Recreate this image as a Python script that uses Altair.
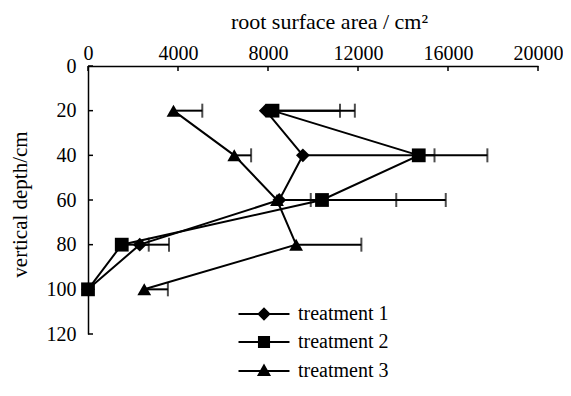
import altair as alt
import pandas as pd

series_names = ["treatment 1", "treatment 2", "treatment 3"]
depths = [20, 40, 60, 80, 100]
t1_values = [7900, 9550, 8500, 2300, 0]
t1_errors = [3300, 5850, 5200, 1300, 0]
t2_values = [8200, 14700, 10400, 1500, 0]
t2_errors = [3660, 3050, 5500, 1200, 0]
t3_values = [3800, 6500, 8400, 9250, 2500]
t3_errors = [1280, 750, 1500, 2900, 1050]
x_ticks = [0, 4000, 8000, 12000, 16000, 20000]
y_ticks = [0, 20, 40, 60, 80, 100, 120]
point_shapes = ["diamond", "square", "triangle-up"]
legend_shapes = [
    "M-3.8,-0.15H3.8V0.15H-3.8Z M0,-1L1,0L0,1L-1,0Z",
    "M-3.8,-0.15H3.8V0.15H-3.8Z M-0.9,-0.9H0.9V0.9H-0.9Z",
    "M-3.8,-0.15H3.8V0.15H-3.8Z M0,-1.1L1.05,0.75L-1.05,0.75Z",
]

rows = []
for name, vals, errs in zip(series_names, [t1_values, t2_values, t3_values],
                            [t1_errors, t2_errors, t3_errors]):
    for d, v, e in zip(depths, vals, errs):
        rows.append({"series": name, "depth": d, "value": v, "err": e, "hi": v + e})
df = pd.DataFrame(rows)
df_err = df[df["err"] > 0]
xt = pd.DataFrame({"xt": x_ticks})
yt = pd.DataFrame({"yt": y_ticks})

FONT = "Liberation Serif"
xscale = alt.Scale(domain=[0, 20000], nice=False)
yscale = alt.Scale(domain=[0, 120], reverse=True, nice=False)
x_axis = alt.Axis(orient="top", values=x_ticks, format="d", ticks=False, grid=False,
                  labelPadding=3, labelFlush=False, title="root surface area / cm²",
                  titleFontSize=22,
                  titleX=241, titleY=-38, titleBaseline="alphabetic", titleAlign="center")
y_axis = alt.Axis(orient="left", values=y_ticks, ticks=False, grid=False,
                  labelPadding=12, labelFlush=False, title="vertical depth/cm",
                  titleFontSize=21,
                  titleX=-62, titleY=138, titleBaseline="alphabetic", titleAlign="center",
                  titleAngle=270)

base = alt.Chart(df)

err_rules = alt.Chart(df_err).mark_rule(color="black", strokeWidth=2).encode(
    x=alt.X("value:Q", scale=xscale, axis=x_axis),
    x2="hi:Q",
    y=alt.Y("depth:Q", scale=yscale, axis=y_axis),
)
err_caps = alt.Chart(df_err).mark_tick(color="black", orient="vertical", size=14, thickness=2).encode(
    x=alt.X("hi:Q", scale=xscale, axis=x_axis),
    y=alt.Y("depth:Q", scale=yscale, axis=y_axis),
)
lines = base.mark_line(color="black", strokeWidth=2).encode(
    x=alt.X("value:Q", scale=xscale, axis=x_axis),
    y=alt.Y("depth:Q", scale=yscale, axis=y_axis),
    detail="series:N",
    order="depth:Q",
)
points = base.mark_point(filled=True, color="black", size=190, opacity=1).encode(
    x=alt.X("value:Q", scale=xscale, axis=x_axis),
    y=alt.Y("depth:Q", scale=yscale, axis=y_axis),
    shape=alt.Shape("series:N", scale=alt.Scale(domain=series_names, range=point_shapes), legend=None),
)
legend_layer = base.transform_filter("false").mark_point(
    filled=True, color="black", size=180, opacity=1
).encode(
    x=alt.X("value:Q", scale=xscale, axis=x_axis),
    y=alt.Y("depth:Q", scale=yscale, axis=y_axis),
    shape=alt.Shape(
        "series:N",
        scale=alt.Scale(domain=series_names, range=legend_shapes),
        legend=alt.Legend(
            orient="none", legendX=166, legendY=238, title=None, padding=0,
            labelFont=FONT, labelFontSize=20, labelColor="black", labelOffset=24,
            rowPadding=8, symbolSize=180, symbolFillColor="black", symbolOpacity=1,
        ),
    ),
)
x_tick_marks = alt.Chart(xt).mark_rule(color="black", strokeWidth=1.5).encode(
    x=alt.X("xt:Q", scale=xscale, axis=x_axis),
    y=alt.value(0),
    y2=alt.value(5),
)
y_tick_marks = alt.Chart(yt).mark_rule(color="black", strokeWidth=1.5).encode(
    y=alt.Y("yt:Q", scale=yscale, axis=y_axis),
    x=alt.value(0),
    x2=alt.value(5),
)

chart = alt.layer(
    x_tick_marks, y_tick_marks, err_rules, err_caps, lines, points, legend_layer
).resolve_scale(shape="independent").properties(
    width=450, height=268,
    padding={"left": 80, "top": 58, "right": 25, "bottom": 50},
    autosize=alt.AutoSizeParams(type="none"),
).configure_view(stroke=None).configure_axis(
    labelFont=FONT, labelFontSize=20, labelColor="black",
    titleFont=FONT, titleColor="black", titleFontWeight="normal",
    domainColor="black", domainWidth=1.5, labelAngle=0,
)

chart.save("out.html", embed_options={"renderer": "svg", "actions": False})
